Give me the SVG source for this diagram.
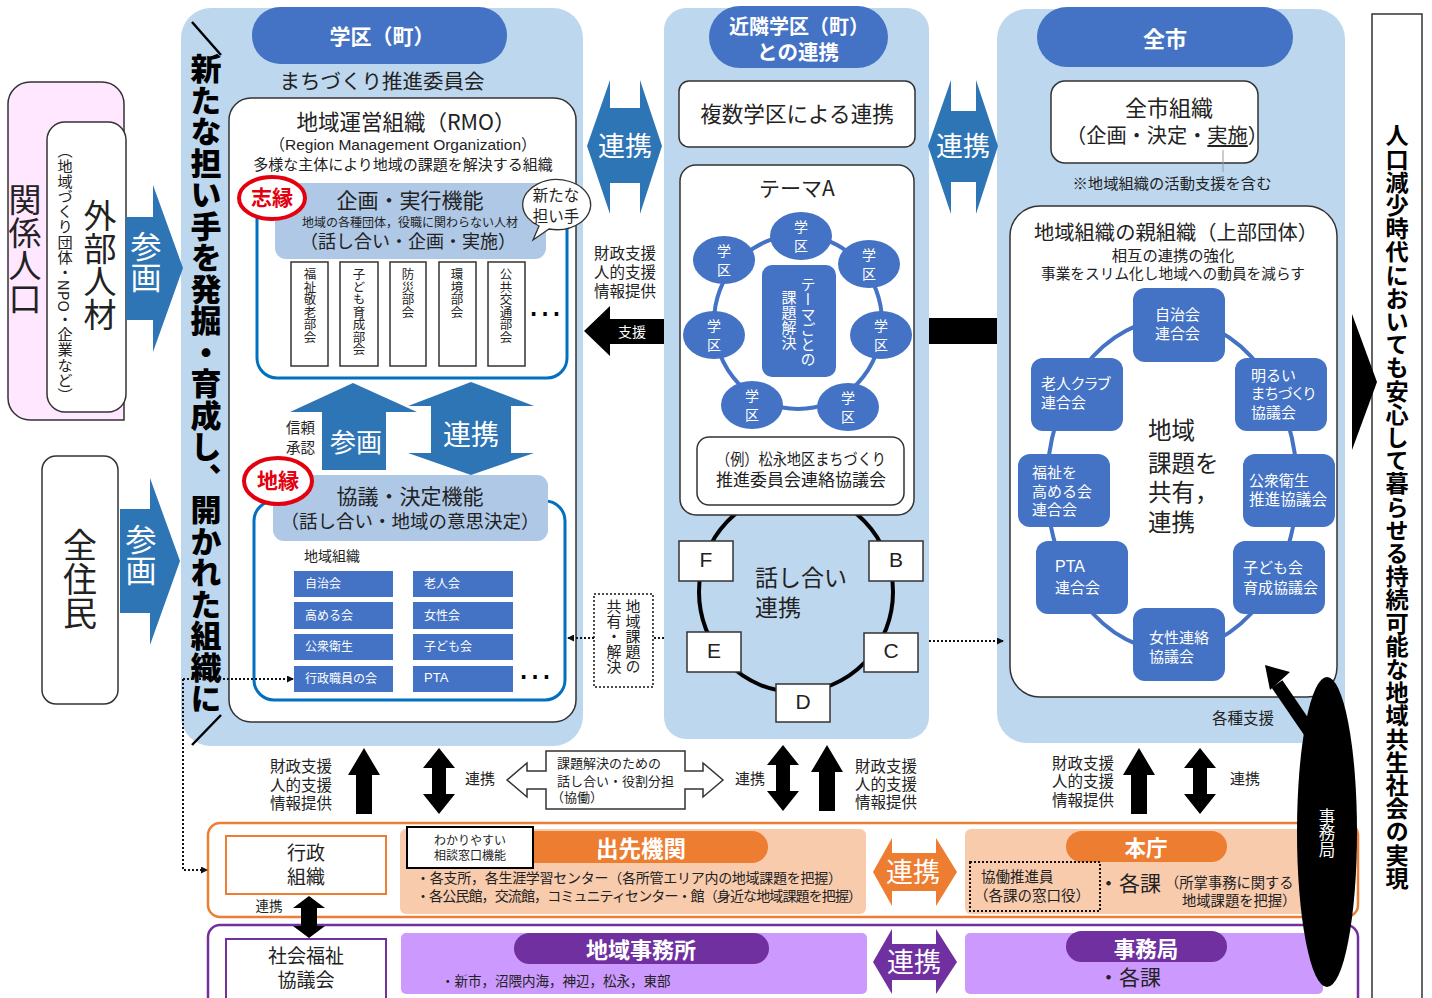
<svg xmlns="http://www.w3.org/2000/svg" width="1432" height="998" viewBox="0 0 1432 998">
<style>
text{font-family:"Noto Sans CJK JP","Liberation Sans",sans-serif;fill:#222;dominant-baseline:central;transform:translateY(-2px)}
.lat{font-family:"Liberation Sans","Noto Sans CJK JP",sans-serif}
.palt{font-feature-settings:"palt"}
.c{text-anchor:middle}
.w{fill:#fff}
.b{font-weight:700}
.bl{font-weight:900;fill:#000}
.bd{font-weight:700;fill:#000}
.v{writing-mode:vertical-rl;dominant-baseline:auto;transform:none}
.panel{fill:#BDD7EE}
.pill{fill:#4472C4}
.wbox{fill:#fff;stroke:#333;stroke-width:1.5}
.sub{fill:#AFC8E6}
.ring{fill:none;stroke:#4472C4;stroke-width:4}
.bluebox{fill:none;stroke:#0070C0;stroke-width:3}
.en{fill:#fff;stroke:#E3000F;stroke-width:4}
.cell{fill:#4472C4}
.arrow{fill:#2E75B6}
.sm{fill:#fff;stroke:#333;stroke-width:1.5}
.dot{fill:none;stroke:#111;stroke-width:2;stroke-dasharray:2 2}
.peach{fill:#F8CBAD}
.purp{fill:#CC99FF}
.or{fill:#ED7D31}
.pu{fill:#7030A0}
</style>
<defs>
<marker id="ah" markerWidth="7" markerHeight="7" refX="6" refY="3.5" orient="auto" markerUnits="userSpaceOnUse"><path d="M0 0L7 3.5L0 7z" fill="#111"/></marker>
<path id="up" d="M0 0L16 27H8V66H-8V27H-16z" fill="#000"/>
<path id="dbl" d="M0 0L16 20H7V46H16L0 66L-16 46H-7V20H-16z" fill="#000"/>
</defs>

<g id="kankei"><path d="M8 104a22 22 0 0 1 22-22h72a22 22 0 0 1 22 22V420H30a22 22 0 0 1-22-22z" fill="#FFE7FF" stroke="#333" stroke-width="1.5"/>
<text class="v" x="25" y="183" font-size="33">関係人口</text></g>
<g id="gaibu"><rect x="47" y="122" width="79" height="290" rx="18" class="wbox"/>
<text class="v" x="100" y="199" font-size="33">外部人材</text>
<text class="v" x="65" y="143" font-size="15.2">（地域づくり団体・NPO・企業など）</text></g>
<g id="juumin"><rect x="42" y="456" width="76" height="248" rx="14" class="wbox"/>
<text class="v" x="80" y="528" font-size="34">全住民</text></g>

<g id="gakku"><rect x="181" y="8" width="402" height="738" rx="30" class="panel"/>
<rect x="252" y="7" width="255" height="57" rx="28" class="pill"/>
<text class="c w b" x="382" y="37" font-size="21">学区（町）</text>
<text class="c" x="382" y="82" font-size="20.5">まちづくり推進委員会</text>
<path d="M192 22L221 55M192 745L221 715" stroke="#000" stroke-width="2.5" fill="none"/>
<text class="v bl" x="206" y="53" font-size="31" letter-spacing=".5">新たな担い手を発掘・育成し、開かれた組織に</text>
<rect x="229" y="98" width="347" height="624" rx="22" class="wbox"/>
<text class="c" x="406" y="122" font-size="21.5">地域運営組織（RMO）</text>
<text class="c lat" x="403" y="146" font-size="15.5">（Region Management Organization）</text>
<text class="c" x="403" y="165" font-size="15">多様な主体により地域の課題を解決する組織</text>
<rect x="257" y="190" width="310" height="188" rx="20" class="bluebox"/>
<rect x="275" y="183" width="271" height="76" rx="11" class="sub"/>
<text class="c" x="410" y="201" font-size="21">企画・実行機能</text>
<text class="c" x="410" y="223" font-size="12">地域の各種団体，役職に関わらない人材</text>
<text class="c" x="408" y="242" font-size="18">（話し合い・企画・実施）</text>
<ellipse cx="272" cy="198" rx="33" ry="21" class="en"/>
<text class="c b" x="272" y="198" font-size="21" style="fill:#E3000F">志縁</text>
<path d="M539 226A34 25 0 1 1 549 229L533 240z" fill="#fff" stroke="#333" stroke-width="1.3"/>
<text class="c" x="556" y="196" font-size="15.5">新たな</text>
<text class="c" x="556" y="217" font-size="15.5">担い手</text>
<rect x="291" y="262" width="37" height="104" class="sm"/><rect x="340" y="262" width="38" height="104" class="sm"/><rect x="390" y="262" width="36" height="104" class="sm"/><rect x="439" y="262" width="37" height="104" class="sm"/><rect x="488" y="262" width="37" height="104" class="sm"/>
<text class="v" x="310" y="268" font-size="12.5">福祉敬老部会</text>
<text class="v" x="359" y="268" font-size="12.5">子ども育成部会</text>
<text class="v" x="408" y="268" font-size="12.5">防災部会</text>
<text class="v" x="457" y="268" font-size="12.5">環境部会</text>
<text class="v" x="506" y="268" font-size="12.5">公共交通部会</text>
<text class="c lat" x="545" y="305" font-size="36" style="fill:#000">…</text>
<text x="286" y="428" font-size="14.5">信頼</text><text x="286" y="448" font-size="14.5">承認</text>
<rect x="254" y="501" width="311" height="199" rx="20" class="bluebox"/>
<rect x="273" y="475" width="275" height="66" rx="11" class="sub"/>
<text class="c" x="410" y="497" font-size="21">協議・決定機能</text>
<text class="c" x="410" y="522" font-size="18.5">（話し合い・地域の意思決定）</text>
<ellipse cx="278" cy="481" rx="34" ry="23" class="en"/>
<text class="c b" x="278" y="481" font-size="21" style="fill:#E3000F">地縁</text>
<text x="304" y="557" font-size="14">地域組織</text>
<rect x="294" y="571" width="99" height="26" class="cell"/><rect x="413" y="571" width="100" height="26" class="cell"/>
<rect x="294" y="602" width="99" height="27" class="cell"/><rect x="413" y="602" width="100" height="27" class="cell"/>
<rect x="294" y="634" width="99" height="26" class="cell"/><rect x="413" y="634" width="100" height="26" class="cell"/>
<rect x="294" y="666" width="99" height="26" class="cell"/><rect x="413" y="666" width="100" height="26" class="cell"/>
<text class="w" x="305" y="584" font-size="12">自治会</text><text class="w" x="424" y="584" font-size="12">老人会</text>
<text class="w" x="305" y="616" font-size="12">高める会</text><text class="w" x="424" y="616" font-size="12">女性会</text>
<text class="w" x="305" y="647" font-size="12">公衆衛生</text><text class="w" x="424" y="647" font-size="12">子ども会</text>
<text class="w" x="305" y="679" font-size="12">行政職員の会</text><text class="w lat" x="424" y="679" font-size="13">PTA</text>
<text class="c lat" x="535" y="668" font-size="36" style="fill:#000">…</text>
</g>

<g id="kinrin"><rect x="664" y="8" width="265" height="731" rx="22" class="panel"/>
<rect x="709" y="6" width="179" height="62" rx="31" class="pill"/>
<text class="c w b" x="799" y="27" font-size="20">近隣学区（町）</text>
<text class="c w b" x="798" y="53" font-size="20.5">との連携</text>
<rect x="679" y="81" width="236" height="66" rx="10" class="wbox"/>
<text class="c" x="797" y="114" font-size="21.6">複数学区による連携</text>
<ellipse cx="796" cy="592" rx="97" ry="100" fill="none" stroke="#000" stroke-width="4"/>
<rect x="680" y="165" width="234" height="350" rx="16" class="wbox"/>
<text class="c" x="797" y="189" font-size="21">テーマA</text>
<ellipse cx="798" cy="322" rx="84" ry="87" class="ring"/>
<g id="gk1"><ellipse cx="801" cy="236" rx="31" ry="24" class="cell"/><text class="c w" x="801" y="228" font-size="14">学</text><text class="c w" x="801" y="247" font-size="14">区</text></g>
<g id="gk2"><ellipse cx="869" cy="264" rx="31" ry="24" class="cell"/><text class="c w" x="869" y="256" font-size="14">学</text><text class="c w" x="869" y="275" font-size="14">区</text></g>
<g id="gk3"><ellipse cx="881" cy="335" rx="31" ry="24" class="cell"/><text class="c w" x="881" y="327" font-size="14">学</text><text class="c w" x="881" y="346" font-size="14">区</text></g>
<g id="gk4"><ellipse cx="848" cy="407" rx="31" ry="24" class="cell"/><text class="c w" x="848" y="399" font-size="14">学</text><text class="c w" x="848" y="418" font-size="14">区</text></g>
<g id="gk5"><ellipse cx="752" cy="405" rx="31" ry="24" class="cell"/><text class="c w" x="752" y="397" font-size="14">学</text><text class="c w" x="752" y="416" font-size="14">区</text></g>
<g id="gk6"><ellipse cx="714" cy="335" rx="31" ry="24" class="cell"/><text class="c w" x="714" y="327" font-size="14">学</text><text class="c w" x="714" y="346" font-size="14">区</text></g>
<g id="gk7"><ellipse cx="724" cy="260" rx="31" ry="24" class="cell"/><text class="c w" x="724" y="252" font-size="14">学</text><text class="c w" x="724" y="271" font-size="14">区</text></g>
<rect x="762" y="265" width="74" height="112" rx="10" class="cell"/>
<text class="v w" x="808" y="277" font-size="15">テーマごとの</text>
<text class="v w" x="789" y="290" font-size="15">課題解決</text>
<rect x="697" y="437" width="207" height="68" rx="12" class="wbox"/>
<text x="716" y="460" font-size="16" textLength="170" lengthAdjust="spacingAndGlyphs">（例）松永地区まちづくり</text>
<text x="716" y="481" font-size="16.5" textLength="170" lengthAdjust="spacingAndGlyphs">推進委員会連絡協議会</text>
<text x="755" y="578" font-size="23">話し合い</text>
<text x="755" y="608" font-size="23">連携</text>
</g>
<g id="node-f"><rect x="679" y="541" width="54" height="40" class="sm"/><text class="c lat" x="706" y="561" font-size="21">F</text></g>
<g id="node-b"><rect x="869" y="541" width="54" height="40" class="sm"/><text class="c lat" x="896" y="561" font-size="21">B</text></g>
<g id="node-e"><rect x="687" y="632" width="54" height="40" class="sm"/><text class="c lat" x="714" y="652" font-size="21">E</text></g>
<g id="node-c"><rect x="864" y="633" width="54" height="39" class="sm"/><text class="c lat" x="891" y="652" font-size="21">C</text></g>
<g id="node-d"><rect x="776" y="684" width="54" height="38" class="sm"/><text class="c lat" x="803" y="703" font-size="21">D</text></g>

<g id="zenshi"><rect x="997" y="9" width="348" height="734" rx="30" class="panel"/>
<rect x="1037" y="7" width="256" height="60" rx="30" class="pill"/>
<text class="c w b" x="1165" y="39" font-size="22">全市</text>
<rect x="1051" y="81" width="207" height="82" rx="14" class="wbox"/>
<text class="c" x="1169" y="108" font-size="22">全市組織</text>
<text class="c" x="1167" y="136" font-size="20.2">（企画・決定・<tspan text-decoration="underline">実施</tspan>）</text>
<path d="M1223 150V172" stroke="#999" stroke-width="1" fill="none"/>
<text class="c" x="1172" y="184" font-size="15.3">※地域組織の活動支援を含む</text>
<rect x="1010" y="206" width="327" height="491" rx="30" class="wbox"/>
<text class="c" x="1176" y="233" font-size="20.3">地域組織の親組織（上部団体）</text>
<text class="c" x="1173" y="256" font-size="15.3">相互の連携の強化</text>
<text class="c" x="1173" y="274" font-size="14.7">事業をスリム化し地域への動員を減らす</text>
<ellipse cx="1172" cy="485" rx="125" ry="166" class="ring"/>
<rect x="1133" y="288" width="92" height="74" rx="12" class="cell"/>
<rect x="1235" y="358" width="92" height="73" rx="12" class="cell"/>
<rect x="1243" y="454" width="92" height="73" rx="12" class="cell"/>
<rect x="1233" y="541" width="92" height="73" rx="12" class="cell"/>
<rect x="1133" y="608" width="92" height="73" rx="12" class="cell"/>
<rect x="1036" y="541" width="92" height="73" rx="12" class="cell"/>
<rect x="1018" y="454" width="92" height="73" rx="12" class="cell"/>
<rect x="1031" y="358" width="92" height="73" rx="12" class="cell"/>
<g font-size="15">
<text class="w" x="1155" y="315">自治会</text><text class="w" x="1155" y="334">連合会</text>
<text class="w" x="1251" y="376">明るい</text><text class="w palt" x="1251" y="394">まちづくり</text><text class="w" x="1251" y="413">協議会</text>
<text class="w" x="1249" y="481">公衆衛生</text><text class="w" x="1249" y="500" font-size="15.6">推進協議会</text>
<text class="w" x="1243" y="568">子ども会</text><text class="w" x="1243" y="588">育成協議会</text>
<text class="w" x="1149" y="638">女性連絡</text><text class="w" x="1149" y="657">協議会</text>
<text class="w lat" x="1055" y="568" font-size="16">PTA</text><text class="w" x="1055" y="588">連合会</text>
<text class="w" x="1032" y="473">福祉を</text><text class="w" x="1032" y="492">高める会</text><text class="w" x="1032" y="510">連合会</text>
<text class="w palt" x="1041" y="384">老人クラブ</text><text class="w" x="1041" y="403">連合会</text>
</g>
<text x="1148" y="431" font-size="23.5">地域</text>
<text x="1148" y="464" font-size="23.5">課題を</text>
<text x="1148" y="493" font-size="23.5">共有，</text>
<text x="1148" y="523" font-size="23.5">連携</text>
<text class="c" x="1243" y="719" font-size="15.5">各種支援</text>
</g>

<g id="jitsugen"><rect x="1372" y="14" width="50" height="1000" class="wbox"/>
<text class="v bd" x="1397" y="124" font-size="23.2">人口減少時代においても安心して暮らせる持続可能な地域共生社会の実現</text></g>

<g id="chiiki-kadai"><rect x="594" y="594" width="59" height="93" class="dot" style="fill:#fff;stroke-width:1.5"/>
<text class="v" x="633" y="599" font-size="15">地域課題の</text>
<text class="v" x="614" y="599" font-size="15">共有・解決</text></g>

<g id="gyosei-band"><rect x="208" y="823" width="1150" height="94" rx="12" fill="#fff" stroke="#ED7D31" stroke-width="2.5"/>
<rect x="226" y="836" width="160" height="58" fill="#fff" stroke="#ED7D31" stroke-width="2"/>
<text class="c" x="306" y="853" font-size="19">行政</text><text class="c" x="306" y="877" font-size="19">組織</text>
<text class="c" x="269" y="907" font-size="13.5">連携</text></g>
<g id="demise"><rect x="400" y="829" width="466" height="85" rx="6" class="peach"/>
<rect x="515" y="831" width="253" height="32" rx="16" class="or"/>
<text class="c w b" x="641" y="849" font-size="22.5">出先機関</text>
<rect x="407" y="827" width="126" height="41" fill="#fff" stroke="#000" stroke-width="2"/>
<text class="c" x="470" y="841" font-size="12">わかりやすい</text><text class="c" x="470" y="856" font-size="12">相談窓口機能</text>
<text x="416" y="879" font-size="14" textLength="426">・各支所，各生涯学習センター（各所管エリア内の地域課題を把握）</text>
<text x="416" y="897" font-size="14" textLength="446">・各公民館，交流館，コミュニティセンター・館（身近な地域課題を把握）</text></g>
<g id="honcho"><rect x="965" y="829" width="370" height="85" rx="6" class="peach"/>
<rect x="1066" y="831" width="161" height="31" rx="15.5" class="or"/>
<text class="c w b" x="1146" y="848" font-size="21.5">本庁</text>
<rect x="970" y="862" width="130" height="49" class="dot"/>
<text x="981" y="877" font-size="14.5">協働推進員</text><text x="974" y="896" font-size="14.5">（各課の窓口役）</text>
<text x="1098" y="884" font-size="21">・各課</text>
<text x="1165" y="883" font-size="14.3">（所掌事務に関する</text>
<text x="1182" y="901" font-size="14.3">地域課題を把握）</text></g>

<g id="shakyo-band"><rect x="208" y="925" width="1150" height="90" rx="12" fill="#fff" stroke="#7030A0" stroke-width="2.5"/>
<rect x="226" y="939" width="160" height="60" fill="#fff" stroke="#7030A0" stroke-width="2"/>
<text class="c" x="306" y="956" font-size="19">社会福祉</text><text class="c" x="306" y="980" font-size="19">協議会</text></g>
<g id="jimusho"><rect x="401" y="933" width="466" height="61" rx="5" class="purp"/>
<rect x="514" y="933" width="255" height="31" rx="15.5" class="pu"/>
<text class="c w b" x="641" y="950" font-size="22">地域事務所</text>
<text x="441" y="982" font-size="13.5">・新市，沼隈内海，神辺，松永，東部</text></g>
<g id="jimukyoku-band"><rect x="965" y="933" width="358" height="61" rx="5" class="purp"/>
<rect x="1066" y="931" width="161" height="31" rx="15.5" class="pu"/>
<text class="c w b" x="1146" y="949" font-size="21.5">事務局</text>
<text x="1098" y="978" font-size="21">・各課</text></g>

<g id="labels">
<text class="c" x="625" y="254" font-size="15.5">財政支援</text><text class="c" x="625" y="273" font-size="15.5">人的支援</text><text class="c" x="625" y="292" font-size="15.5">情報提供</text>
<text class="c" x="301" y="767" font-size="15.5">財政支援</text><text class="c" x="301" y="786" font-size="15.5">人的支援</text><text class="c" x="301" y="804" font-size="15.5">情報提供</text>
<text class="c" x="886" y="767" font-size="15.5">財政支援</text><text class="c" x="886" y="785" font-size="15.5">人的支援</text><text class="c" x="886" y="803" font-size="15.5">情報提供</text>
<text class="c" x="1083" y="764" font-size="15.5">財政支援</text><text class="c" x="1083" y="782" font-size="15.5">人的支援</text><text class="c" x="1083" y="801" font-size="15.5">情報提供</text>
<text class="c" x="480" y="779" font-size="15">連携</text><text class="c" x="750" y="779" font-size="15">連携</text><text class="c" x="1245" y="779" font-size="15">連携</text>
</g>

<g id="connectors">
<path d="M126 217H153V185L183 268L153 352V320H126z" class="arrow"/>
<text class="v w" x="146" y="231" font-size="31">参画</text>
<path d="M120 509H150V478L180 561L150 645V613H120z" class="arrow"/>
<text class="v w" x="141" y="524" font-size="31">参画</text>
<path d="M353 383L417 412H386V470H322V412H290z" class="arrow"/>
<text class="c w" x="356" y="442" font-size="26">参画</text>
<path d="M471 382L534 406H511V453H534L471 475L408 453H431V406H408z" class="arrow"/>
<text class="c w" x="471" y="435" font-size="28">連携</text>
<path d="M587 146L610 80V108H640V80L662 146L640 214V183H610V214z" class="arrow"/>
<text class="c w" x="625" y="146" font-size="27">連携</text>
<path d="M928 146L951 80V111H976V80L998 146L976 214V182H951V214z" class="arrow"/>
<text class="c w" x="963" y="146" font-size="27">連携</text>
<path d="M584 331L610 306V319H664V344H610V356z" fill="#000"/>
<text class="c w" x="632" y="333" font-size="14">支援</text>
<rect x="929" y="318" width="68" height="26" fill="#000"/>
<path d="M1352 314L1377 382L1352 450z" fill="#000"/>
<use href="#up" x="364" y="748"/>
<use href="#dbl" x="439" y="748"/>
<use href="#dbl" x="783" y="745"/>
<use href="#up" x="827" y="745"/>
<use href="#up" x="1139" y="748"/>
<use href="#dbl" x="1200" y="748"/>
<path d="M507 780L527 763V771H546V751H685V771H703V763L723 780L703 797V789H685V809H546V789H527V797z" fill="#fff" stroke="#333" stroke-width="1.5"/>
<text x="557" y="764" font-size="13">課題解決のための</text>
<text x="557" y="782" font-size="13">話し合い・役割分担</text>
<text x="551" y="798" font-size="13">（協働）</text>
<path d="M873 872L892 838V853H936V838L957 872L936 906V891H892V906z" class="or"/>
<text class="c w" x="913" y="872" font-size="27">連携</text>
<path d="M873 962L892 929V944H936V929L957 962L936 994V980H892V994z" class="pu"/>
<text class="c w" x="914" y="962" font-size="27">連携</text>
<path d="M309 896L325 908H317V926H325L309 938L293 926H301V908H293z" fill="#000"/>
<path class="dot" d="M183 679H293" marker-end="url(#ah)"/>
<path class="dot" d="M183 679V870H207" marker-end="url(#ah)"/>
<path class="dot" d="M594 638H568" marker-end="url(#ah)"/>
<path class="dot" d="M664 638H653"/>
<path class="dot" d="M929 641H1003" marker-end="url(#ah)"/>
<path d="M1312 735L1277 684" stroke="#000" stroke-width="13" fill="none"/>
<path d="M1265 665L1290 672L1270 690z" fill="#000"/>
</g>

<g id="jimukyoku"><ellipse cx="1327" cy="832" rx="30" ry="155" fill="#000"/>
<text class="v w" x="1327" y="808" font-size="16.5">事務局</text></g>
</svg>
